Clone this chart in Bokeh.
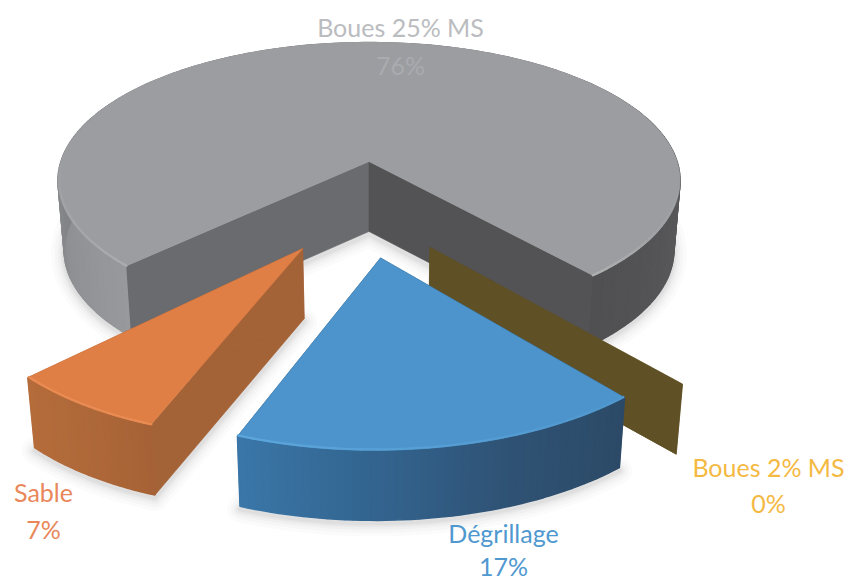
import numpy as np
from bokeh.plotting import figure
from bokeh.models import Range1d
from bokeh.core.properties import value
from bokeh.embed import file_html
from bokeh.resources import INLINE

# ---- data
labels = ["Boues 25% MS", "Boues 2% MS", "Dégrillage", "Sable"]
shares = [76, 0, 17, 7]
pct_labels = ["76%", "0%", "17%", "7%"]
top_colors = ["#9c9da1", "#5f5025", "#4c94cb", "#df7e45"]
text_colors = ["#babcc0", "#f4b942", "#4f98d0", "#e9875a"]
pct_colors = ["#a9abaf", "#f4b942", "#4f98d0", "#e9875a"]

# ---- projection of the pie plane on the page
CX, CY = 368.5, 161.0
A, B, K = 308.0, 135.3, 0.138
DEPTH = 70.0
CONVERGE = 0.02
START = -45.6

explode = {0: (0.0, 0.0), 1: (0.176, 0.584), 2: (0.015, 0.649), 3: (-0.226, 0.641)}
radius = {0: 1.0, 1: 1.0, 2: 1.0, 3: 0.954}
apex_nudge = {0: (0, 0), 1: (2, 0), 2: (6.5, 0), 3: (10, -8)}
walls = {0: ("#6a6b6e", "#535355"), 1: ("#5f5025", "#5f5025"),
         2: ("#2c4d6c", "#2c4d6c"), 3: ("#a46237", "#a46237")}
side_stops = {
    0: ([-319.2, -270, -180, -90, -70, -45.6], ["#505052", "#5c5c5e", "#6a6a6c", "#838487", "#8f9093", "#98999c"]),
    1: ([0, 1], ["#5f5025", "#5f5025"]),
    2: ([-20.4, 0, 20, 40.8], ["#3a77a8", "#33648f", "#2f5274", "#2c4a67"]),
    3: ([-45.6, -32, -20.4], ["#b56c3b", "#ae6839", "#a66236"]),
}
rim_stops = {
    0: ([-319.2, -300, -280, -95, -70, -45.6], ["#aeafb1", "#a2a3a6", "#9c9da1", "#9c9da1", "#a3a4a7", "#abacaf"]),
    2: ([-20.4, 40.8], ["#5ca6db", "#5097cd"]),
    3: ([-45.6, -20.4], ["#e88c54", "#e88c54"]),
}


def hex2rgb(c):
    return np.array([int(c[i:i + 2], 16) for i in (1, 3, 5)], float)


def ramp(stops, t):
    if t < -319.25:
        t += 360
    xs, cs = stops
    rgb = np.array([hex2rgb(c) for c in cs])
    vals = [np.interp(t, xs, rgb[:, j]) for j in range(3)]
    return "#%02x%02x%02x" % tuple(int(round(v)) for v in vals)


def project(i, theta, r, down=False):
    ox, oy = explode[i]
    th = np.radians(theta)
    X = ox + r * np.sin(th)
    Y = oy + r * np.cos(th)
    d = 1 - K * Y
    u = A * X / d
    v = B * Y / d
    if down:
        return CX + u * (1 - CONVERGE), CY + v + DEPTH
    return CX + u, CY + v


def apex(i, down=False):
    x, y = project(i, 0, 0, down)
    return x + apex_nudge[i][0], y + apex_nudge[i][1]


# ---- slice angles come from the shares, going clockwise on the page
spans = []
a = START
for s in shares:
    spans.append((a, a - s * 3.6))
    a -= s * 3.6

p = figure(width=844, height=581, x_range=Range1d(0, 844), y_range=Range1d(581, 0),
           output_backend="svg", toolbar_location=None, min_border=0,
           background_fill_color="white", border_fill_color="white")
p.axis.visible = False
p.grid.visible = False
p.outline_line_color = None


def arc_angles(i):
    a0, a1 = spans[i]
    n = max(2, int(abs(a1 - a0) / 1.2) + 1)
    return np.linspace(a0, a1, n)


def outline(i, down):
    t = arc_angles(i)
    r = radius[i]
    xs = [project(i, a, r, down)[0] for a in t]
    ys = [project(i, a, r, down)[1] for a in t]
    ax, ay = apex(i, down)
    return [ax] + xs, [ay] + ys


# soft shadows, drawn under everything
for i in [0, 2, 3]:
    x, y = outline(i, True)
    y = [v + 3 for v in y]
    for w, al in [(26, 0.022), (19, 0.028), (13, 0.035), (8, 0.045), (4, 0.055)]:
        p.patches([x], [y], fill_color="#4a4a4a", fill_alpha=0.0,
                  line_color="#4a4a4a", line_alpha=al, line_width=w, line_join="round")

for i in [0, 1, 2, 3]:
    t = arc_angles(i)
    r = radius[i]
    # the two straight walls
    for k, ang in enumerate(spans[i]):
        ax, ay = apex(i)
        bx, by = apex(i, True)
        cx_, cy_ = project(i, ang, r, True)
        dx_, dy_ = project(i, ang, r)
        c = walls[i][k]
        p.patch([ax, bx, cx_, dx_], [ay, by, cy_, dy_], fill_color=c, line_color=c, line_width=0.6)
    # the outer wall, as narrow shaded strips
    if shares[i] > 0:
        xs, ys, cols = [], [], []
        for a0, a1 in zip(t[:-1], t[1:]):
            p0, p1 = project(i, a0, r), project(i, a1, r)
            q0, q1 = project(i, a0, r, True), project(i, a1, r, True)
            xs.append([p0[0], p1[0], q1[0], q0[0]])
            ys.append([p0[1], p1[1], q1[1], q0[1]])
            cols.append(ramp(side_stops[i], (a0 + a1) / 2))
        p.patches(xs, ys, fill_color=cols, line_color=cols, line_width=1.6)
        # top face
        x, y = outline(i, False)
        p.patch(x, y, fill_color=top_colors[i], line_color=top_colors[i], line_width=0.6)
        # light bevel along the outer edge
        xs, ys, cols = [], [], []
        for a0, a1 in zip(t[:-1], t[1:]):
            p0, p1 = project(i, a0, r * 0.996), project(i, a1, r * 0.996)
            xs.append([p0[0], p1[0]])
            ys.append([p0[1], p1[1]])
            cols.append(ramp(rim_stops[i], (a0 + a1) / 2))
        p.multi_line(xs, ys, line_color=cols, line_width=2.2, line_cap="round")

# ---- labels
lx = [400, 768, 503, 43]
ly = [26, 466, 532, 491]
py = [64, 502, 565, 528]
FONT = "Lato"
p.text(lx, ly, text=labels, text_color=text_colors, text_font=value(FONT), text_font_size="25px",
       text_align="center", text_baseline="middle")
p.text(lx, py, text=pct_labels, text_color=pct_colors, text_font=value(FONT), text_font_size="25px",
       text_align="center", text_baseline="middle")

open("out.html", "w").write(file_html(p, INLINE))
